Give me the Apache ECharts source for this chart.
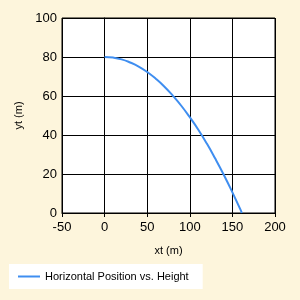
<!DOCTYPE html>
<html>
<head>
<meta charset="utf-8">
<script src="https://cdn.jsdelivr.net/npm/echarts@6/dist/echarts.min.js"></script>
<style>
  html, body { margin: 0; padding: 0; background: #fdf5dc; }
  #chart { width: 300px; height: 300px; }
</style>
</head>
<body>
<div id="chart"></div>
<script>
// positions
const xt = [0, 10, 20, 30, 40, 50, 60, 70, 80, 90, 100, 110, 120, 130, 140, 150, 160, 161]
const yt = [80, 79.7, 78.8, 77.2, 75.1, 72.3, 68.9, 64.9, 60.2, 55.0, 49.1, 42.7, 35.6, 27.8, 19.5, 10.6, 1.2, 0]
const seriesName = 'Horizontal Position vs. Height'

const tickFont = { color: '#000', fontSize: 13, fontFamily: 'Liberation Sans' }
const smallFont = { color: '#000', fontSize: 11, fontFamily: 'Liberation Sans' }
const blackLine = { color: '#000', width: 1 }

const option = {
  backgroundColor: '#fdf5dc',
  animation: false,
  grid: {
    left: 62,
    right: 25,
    top: 18,
    bottom: 87,
    backgroundColor: '#fff',
    show: true,
    borderColor: '#000',
    borderWidth: 1,
  },
  xAxis: {
    type: 'value',
    min: -50,
    max: 200,
    interval: 50,
    name: 'xt (m)',
    nameLocation: 'middle',
    nameGap: 32,
    nameTextStyle: smallFont,
    axisLabel: { ...tickFont, margin: 8 },
    axisLine: { show: true, onZero: false, lineStyle: blackLine },
    axisTick: { show: true, length: 4, lineStyle: blackLine },
    splitLine: { show: true, lineStyle: blackLine },
  },
  yAxis: {
    type: 'value',
    min: 0,
    max: 100,
    interval: 20,
    name: 'yt (m)',
    nameLocation: 'middle',
    nameGap: 38,
    nameTextStyle: smallFont,
    axisLabel: { ...tickFont, margin: 5 },
    axisLine: { show: true, lineStyle: blackLine },
    axisTick: { show: true, length: 4, lineStyle: blackLine },
    splitLine: { show: true, lineStyle: blackLine },
  },
  legend: {
    left: 9,
    top: 264,
    backgroundColor: '#fff',
    padding: [7, 14, 7, 9],
    itemWidth: 22,
    itemHeight: 12,
    itemGap: 5,
    textStyle: smallFont,
    data: [{ name: seriesName, icon: 'path://M0,5 L22,5 L22,7 L0,7 Z' }],
  },
  series: [
    {
      name: seriesName,
      type: 'line',
      smooth: true,
      showSymbol: false,
      data: xt.map((x, i) => [x, yt[i]]),
      lineStyle: { color: '#3f8ef0', width: 2 },
      itemStyle: { color: '#3f8ef0' },
    },
  ],
}

const myChart = echarts.init(document.getElementById('chart'))
myChart.setOption(option)
</script>
</body>
</html>
